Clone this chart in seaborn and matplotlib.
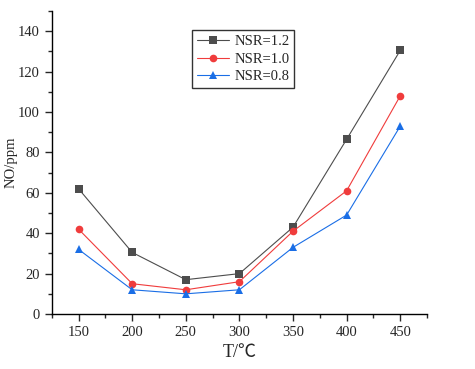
import pandas as pd
import numpy as np
import matplotlib
matplotlib.use('Agg')
import matplotlib.pyplot as plt
from matplotlib.ticker import MultipleLocator
import seaborn as sb

# data
temps = [150, 200, 250, 300, 350, 400, 450]
nsr_12 = [62, 30.5, 17, 20, 43, 86.5, 130.5]
nsr_10 = [42, 15, 12, 16, 41, 61, 108]
nsr_08 = [32, 12, 10, 12, 33, 49, 93]
labels = ['NSR=1.2', 'NSR=1.0', 'NSR=0.8']

df = pd.DataFrame({
    'T': temps * 3,
    'NO': nsr_12 + nsr_10 + nsr_08,
    'group': [labels[0]] * 7 + [labels[1]] * 7 + [labels[2]] * 7,
})

sb.set_style('ticks')
plt.rcParams['font.family'] = ['Liberation Serif', 'Noto Sans CJK SC', 'DejaVu Sans']

fig = plt.figure(figsize=(4.75, 3.69), dpi=100)
ax = fig.add_axes([0.109, 0.149, 0.79, 0.821])

palette = {labels[0]: '#4d4d4d', labels[1]: '#f03c3c', labels[2]: '#1a6ee6'}
markers = {labels[0]: 's', labels[1]: 'o', labels[2]: '^'}
sb.lineplot(data=df, x='T', y='NO', hue='group', style='group',
            palette=palette, markers=markers, dashes=False,
            markersize=5.5, markeredgewidth=0, linewidth=0.8, ax=ax)

ax.set_xlim(125, 475)
ax.set_ylim(0, 150)
ax.xaxis.set_major_locator(MultipleLocator(50))
ax.xaxis.set_minor_locator(MultipleLocator(25))
ax.yaxis.set_major_locator(MultipleLocator(20))
ax.yaxis.set_minor_locator(MultipleLocator(10))
ax.tick_params(which='major', direction='out', length=5, width=1, labelsize=10.5)
ax.tick_params(which='minor', direction='out', length=3, width=1)
for s in ['top', 'right']:
    ax.spines[s].set_visible(False)
for s in ['left', 'bottom']:
    ax.spines[s].set_linewidth(1)
    ax.spines[s].set_color('black')

ax.set_xlabel('T/℃', fontsize=13)
ax.set_ylabel('NO/ppm', fontsize=10.5, labelpad=0)

leg = ax.legend(loc='upper left', bbox_to_anchor=(0.355, 0.96), fontsize=10.5,
                frameon=True, fancybox=False, edgecolor='black',
                borderpad=0.3, labelspacing=0.3, handlelength=2.2, handletextpad=0.4)
leg.get_frame().set_linewidth(1)
leg.set_title(None)

fig.savefig('out.png', dpi=100)
